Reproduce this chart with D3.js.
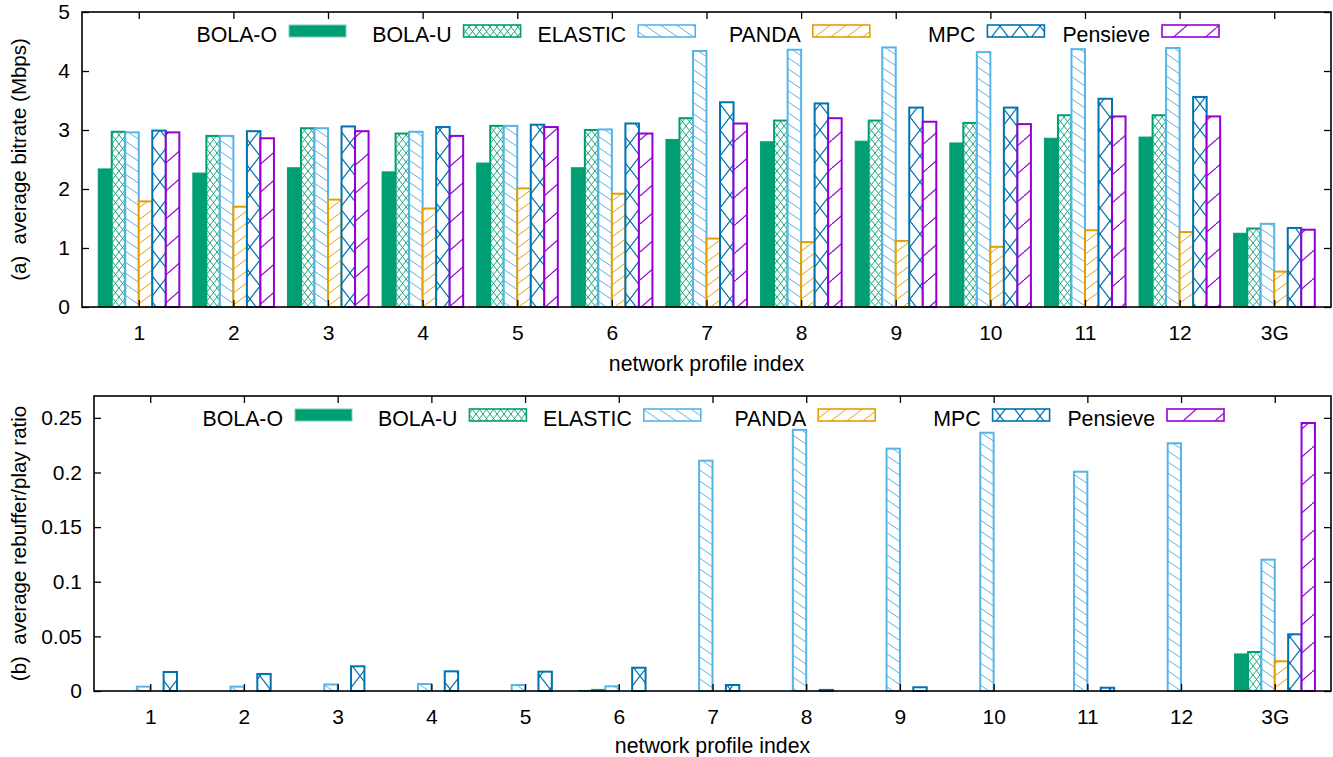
<!DOCTYPE html>
<html><head><meta charset="utf-8">
<script src="https://cdn.jsdelivr.net/npm/d3@7"></script>
<style>
body{margin:0;background:#fff}
text{font-family:"Liberation Sans",Arial,Helvetica,sans-serif;fill:#000}
</style>
</head><body>
<svg id="chart" width="1333" height="757"></svg>
<script>
// ---------------- data ----------------
const categories = ["1","2","3","4","5","6","7","8","9","10","11","12","3G"];
const seriesNames = ["BOLA-O","BOLA-U","ELASTIC","PANDA","MPC","Pensieve"];
const seriesColors = ["#009e73","#009e73","#56b4e9","#e69f00","#0072b2","#9400d3"];

// (a) average bitrate (Mbps)
const bitrateBOLAO    = [2.34,2.27,2.36,2.29,2.44,2.36,2.84,2.80,2.81,2.78,2.86,2.88,1.25];
const bitrateBOLAU    = [2.97,2.90,3.03,2.94,3.07,3.00,3.20,3.16,3.16,3.12,3.25,3.25,1.33];
const bitrateELASTIC  = [2.96,2.90,3.03,2.97,3.07,3.01,4.34,4.36,4.40,4.32,4.37,4.39,1.41];
const bitratePANDA    = [1.79,1.70,1.82,1.67,2.01,1.92,1.16,1.10,1.12,1.02,1.30,1.27,0.60];
const bitrateMPC      = [2.99,2.98,3.06,3.05,3.09,3.11,3.47,3.45,3.38,3.38,3.53,3.56,1.34];
const bitratePensieve = [2.96,2.86,2.98,2.90,3.05,2.94,3.11,3.20,3.14,3.10,3.23,3.23,1.31];

// (b) average rebuffer/play ratio
const rebufBOLAO    = [0,0,0,0,0,0.0005,0,0,0,0,0,0,0.0339];
const rebufBOLAU    = [0,0,0,0,0,0.001,0,0,0,0,0,0,0.0357];
const rebufELASTIC  = [0.004,0.004,0.006,0.0064,0.0055,0.0043,0.2108,0.239,0.2218,0.2364,0.2007,0.2267,0.1202];
const rebufPANDA    = [0,0,0,0,0,0,0,0,0,0,0,0,0.0272];
const rebufMPC      = [0.0174,0.0156,0.0226,0.018,0.0177,0.0213,0.0055,0.001,0.0034,0,0.003,0,0.0519];
const rebufPensieve = [0,0,0,0,0,0,0,0,0,0,0,0,0.2453];

const yTicksA = [0,1,2,3,4,5];
const yTicksB = [0,0.05,0.1,0.15,0.2,0.25];
const yLabelA = "(a)  average bitrate (Mbps)";
const yLabelB = "(b)  average rebuffer/play ratio";
const xLabel = "network profile index";

// ---------------- drawing ----------------
const svg = d3.select("#chart");
const defs = svg.append("defs");

// fill patterns (gnuplot-like)
function makePattern(id, color, w, h, lines, sw) {
  const p = defs.append("pattern").attr("id", id)
    .attr("patternUnits","userSpaceOnUse").attr("width", w).attr("height", h);
  p.append("rect").attr("width", w).attr("height", h).attr("fill", "#fff");
  lines.forEach(l => p.append("line")
    .attr("x1", l[0]).attr("y1", l[1]).attr("x2", l[2]).attr("y2", l[3])
    .attr("stroke", color).attr("stroke-width", sw));
}
// BOLA-U: dense crosshatch
makePattern("pBU", seriesColors[1], 7, 9, [[0,0,7,9],[7,0,0,9]], 0.9);
// ELASTIC: "\" hatch
makePattern("pEL", seriesColors[2], 16, 11, [[0,0,16,11],[-16,0,0,11],[16,0,32,11],[0,-11,16,0],[0,11,16,22]], 1);
// PANDA: "/" hatch
makePattern("pPA", seriesColors[3], 16, 12, [[0,12,16,0],[-16,12,0,0],[16,12,32,0],[0,24,16,12],[0,0,16,-12]], 1);
// MPC: coarse crosshatch
makePattern("pMP", seriesColors[4], 20, 26, [[0,0,20,26],[20,0,0,26]], 1.2);
// Pensieve: sparse "/" hatch
makePattern("pPE", seriesColors[5], 32, 28, [[0,28,32,0],[-32,28,0,0],[32,28,64,0]], 1.2);

const fills = [seriesColors[0], "url(#pBU)", "url(#pEL)", "url(#pPA)", "url(#pMP)", "url(#pPE)"];

function drawPanel(cfg) {
  const g = svg.append("g");
  const x = d3.scaleLinear().domain([0.4, categories.length + 0.6]).range([cfg.left, cfg.right]);
  const y = d3.scaleLinear().domain(cfg.yDomain).range([cfg.bottom, cfg.top]);
  const nS = cfg.series.length;
  const bw = 1 / (nS + 1);

  // bars
  cfg.series.forEach((vals, s) => {
    const data = vals.map((v, i) => ({v, i})).filter(d => d.v > 0);
    g.append("g").selectAll("rect").data(data).join("rect")
      .attr("x", d => x(d.i + 1 - nS * bw / 2 + s * bw))
      .attr("width", d => x(bw) - x(0))
      .attr("y", d => y(d.v))
      .attr("height", d => y(0) - y(d.v))
      .attr("fill", fills[s])
      .attr("stroke", seriesColors[s])
      .attr("stroke-width", s === 0 ? 1 : 2);
  });

  // axes (inward ticks, mirrored)
  const tickPos = categories.map((c, i) => i + 1);
  g.append("g").attr("transform", `translate(0,${cfg.bottom})`)
    .call(d3.axisBottom(x).tickValues(tickPos).tickFormat((d, i) => categories[i]).tickSize(-7).tickPadding(18));
  g.append("g").attr("transform", `translate(0,${cfg.top})`)
    .call(d3.axisTop(x).tickValues(tickPos).tickFormat("").tickSize(-7));
  g.append("g").attr("transform", `translate(${cfg.left},0)`)
    .call(d3.axisLeft(y).tickValues(cfg.yTicks).tickFormat(d => String(d)).tickSize(-7).tickPadding(12));
  g.append("g").attr("transform", `translate(${cfg.right},0)`)
    .call(d3.axisRight(y).tickValues(cfg.yTicks).tickFormat("").tickSize(-7));
  g.selectAll(".domain").remove();
  g.selectAll(".tick line").attr("stroke", "#000").attr("stroke-width", 1.3);
  g.selectAll(".tick text").attr("font-size", 21).attr("fill", "#000")
    .style("font-family", '"Liberation Sans",Arial,sans-serif');

  // frame
  g.append("rect").attr("x", cfg.left).attr("y", cfg.top)
    .attr("width", cfg.right - cfg.left).attr("height", cfg.bottom - cfg.top)
    .attr("fill", "none").attr("stroke", "#000").attr("stroke-width", 1.6);

  // legend
  const lg = g.append("g");
  seriesNames.forEach((name, s) => {
    const sx = cfg.legX + s * cfg.legStep;
    lg.append("text").attr("x", sx - 12).attr("y", cfg.legY + 16.5)
      .attr("text-anchor", "end").attr("font-size", 21.3).text(name);
    lg.append("rect").attr("x", sx).attr("y", cfg.legY)
      .attr("width", 57).attr("height", 12)
      .attr("fill", fills[s]).attr("stroke", s === 0 ? "#7fd0b8" : seriesColors[s])
      .attr("stroke-width", s === 0 ? 1 : 1.6);
  });

  // axis titles
  g.append("text").attr("x", (cfg.left + cfg.right) / 2).attr("y", cfg.xLabelY)
    .attr("text-anchor", "middle").attr("font-size", 21.3).text(xLabel);
  const cy = (cfg.top + cfg.bottom) / 2;
  g.append("text").attr("transform", `translate(${cfg.yLabelX},${cy}) rotate(-90)`)
    .attr("text-anchor", "middle").attr("font-size", 20.5).attr("xml:space", "preserve")
    .style("white-space", "pre").text(cfg.yLabel);
}

drawPanel({
  left: 82, right: 1331, top: 12, bottom: 307,
  yDomain: [0, 5], yTicks: yTicksA, yLabel: yLabelA, yLabelX: 26,
  xLabelY: 371,
  series: [bitrateBOLAO, bitrateBOLAU, bitrateELASTIC, bitratePANDA, bitrateMPC, bitratePensieve],
  legX: 289, legStep: 174.6, legY: 25
});
drawPanel({
  left: 94, right: 1331, top: 396, bottom: 691,
  yDomain: [0, 0.27], yTicks: yTicksB, yLabel: yLabelB, yLabelX: 26,
  xLabelY: 753,
  series: [rebufBOLAO, rebufBOLAU, rebufELASTIC, rebufPANDA, rebufMPC, rebufPensieve],
  legX: 295, legStep: 174.4, legY: 409
});
</script>
</body></html>
